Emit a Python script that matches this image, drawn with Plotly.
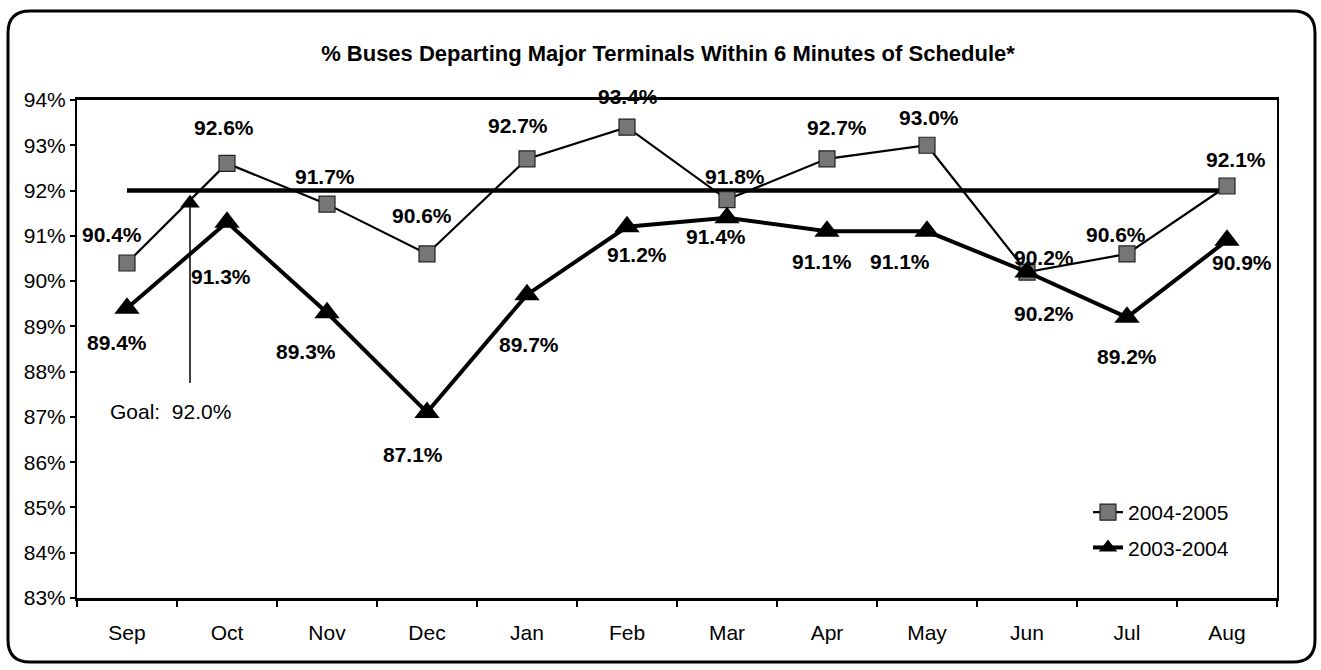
import plotly.graph_objects as go

# ---------------- data ----------------
months = ["Sep", "Oct", "Nov", "Dec", "Jan", "Feb", "Mar", "Apr", "May", "Jun", "Jul", "Aug"]
fy2005 = [90.4, 92.6, 91.7, 90.6, 92.7, 93.4, 91.8, 92.7, 93.0, 90.2, 90.6, 92.1]
fy2004 = [89.4, 91.3, 89.3, 87.1, 89.7, 91.2, 91.4, 91.1, 91.1, 90.2, 89.2, 90.9]
goal = 92.0
y_ticks = list(range(83, 95))
title_text = "% Buses Departing Major Terminals Within 6 Minutes of Schedule*"
goal_text = "Goal:\u00a0 92.0%"

# ---------------- layout helpers (pixels / styles) ----------------
W, H = 1321, 670
ML, MR, MT, MB = 77, 44, 100, 72
FONT = "Liberation Sans, Arial, sans-serif"

# label offsets (dx, dy in px, relative to the marker; dy positive = down)
off2005 = [(-15, -28), (-3, -36), (-2, -28), (-5, -38), (-9, -33), (1, -31),
           (8, -23), (10, -31), (2, -28), (17, -15), (-11, -19), (9, -27)]
off2004 = [(-10, 34), (-6, 54), (-21, 39), (-14, 42), (2, 50), (10, 28),
           (-11, 19), (-5, 30), (-27, 30), (17, 41), (0, 39), (15, 22)]

# goal arrow placement (category units / percent)
goal_arrow_x = 0.63
goal_arrow_top = 91.72
goal_arrow_bottom = 87.75
goal_text_x = 0.43
goal_text_y = 87.12

xs = list(range(len(months)))

fig = go.Figure()

fig.add_trace(go.Scatter(
    x=xs, y=fy2005, name="2004-2005", mode="lines+markers",
    line=dict(color="black", width=2.2),
    marker=dict(symbol="square", size=16, color="#767676",
                line=dict(color="#222222", width=1.2)),
    legendgroup="a",
))
fig.add_trace(go.Scatter(
    x=xs, y=fy2004, name="2003-2004", mode="lines+markers",
    line=dict(color="black", width=4),
    marker=dict(symbol="triangle-up", size=22, color="black"),
    legendgroup="b",
))
# goal arrow head
fig.add_trace(go.Scatter(
    x=[goal_arrow_x], y=[goal_arrow_top], mode="markers", showlegend=False,
    marker=dict(symbol="triangle-up", size=17, color="black"),
    hoverinfo="skip",
))

shapes = []
# goal line
shapes.append(dict(type="line", xref="x", yref="y", x0=xs[0], x1=xs[-1],
                   y0=goal, y1=goal, line=dict(color="black", width=4.5), layer="below"))
# goal arrow shaft
shapes.append(dict(type="line", xref="x", yref="y", x0=goal_arrow_x, x1=goal_arrow_x,
                   y0=goal_arrow_top, y1=goal_arrow_bottom, line=dict(color="black", width=1.5)))

# outer rounded frame (pixel positions converted to paper coords)
def px(X):
    return (X - ML) / (W - ML - MR)

def py(Y):
    return (H - MB - Y) / (H - MT - MB)

L, R, T, B, r = 8, 1315, 11, 662, 22
path = (f"M {px(L + r)},{py(T)} L {px(R - r)},{py(T)} Q {px(R)},{py(T)} {px(R)},{py(T + r)} "
        f"L {px(R)},{py(B - r)} Q {px(R)},{py(B)} {px(R - r)},{py(B)} "
        f"L {px(L + r)},{py(B)} Q {px(L)},{py(B)} {px(L)},{py(B - r)} "
        f"L {px(L)},{py(T + r)} Q {px(L)},{py(T)} {px(L + r)},{py(T)} Z")
shapes.append(dict(type="path", xref="paper", yref="paper", path=path,
                   line=dict(color="black", width=3)))

annotations = []
lab_font = dict(family=FONT, size=21, color="black")
for series, offs in ((fy2005, off2005), (fy2004, off2004)):
    for x, v, (dx, dy) in zip(xs, series, offs):
        annotations.append(dict(
            x=x, y=v, xref="x", yref="y", text=f"<b>{v:.1f}%</b>", showarrow=False,
            xanchor="center", yanchor="middle", xshift=dx, yshift=-dy, font=lab_font))
annotations.append(dict(
    x=goal_text_x, y=goal_text_y, xref="x", yref="y", text=goal_text, showarrow=False,
    xanchor="center", yanchor="middle", font=dict(family=FONT, size=21, color="black")))

fig.update_layout(
    width=W, height=H,
    margin=dict(l=ML, r=MR, t=MT, b=MB, pad=0),
    paper_bgcolor="white", plot_bgcolor="white",
    font=dict(family=FONT, color="black", size=21),
    title=dict(text=f"<b>{title_text}</b>", x=px(668), xref="paper", xanchor="center",
               y=1 - 53 / H, yref="container", yanchor="middle",
               font=dict(family=FONT, size=22, color="black")),
    showlegend=True,
    legend=dict(x=px(1088), y=py(492), xanchor="left", yanchor="top",
                bgcolor="rgba(0,0,0,0)", font=dict(family=FONT, size=21, color="black"),
                tracegroupgap=5, itemclick=False),
    shapes=shapes,
    annotations=annotations,
)

fig.update_xaxes(
    range=[-0.5, len(months) - 0.5], tickmode="array", tickvals=xs, ticktext=months,
    ticks="", showgrid=False, zeroline=False,
    showline=True, linecolor="black", linewidth=2.5, mirror=True,
    tickfont=dict(family=FONT, size=21, color="black"), ticklabelstandoff=14,
    minor=dict(tickmode="array", tickvals=[i - 0.5 for i in range(len(months) + 1)],
               ticks="outside", ticklen=6, tickwidth=1.5, tickcolor="black", showgrid=False),
)
fig.update_yaxes(
    range=[y_ticks[0], y_ticks[-1]], tickmode="array", tickvals=y_ticks,
    ticktext=[f"{t}%" for t in y_ticks],
    ticks="outside", ticklen=5, tickwidth=1.5, tickcolor="black",
    showgrid=False, zeroline=False,
    showline=True, linecolor="black", linewidth=2, mirror=True,
    tickfont=dict(family=FONT, size=21, color="black"),
)

fig.write_html("out.html", config={"displayModeBar": False},
               post_script="document.body.style.margin='0';document.body.style.overflow='hidden';")
